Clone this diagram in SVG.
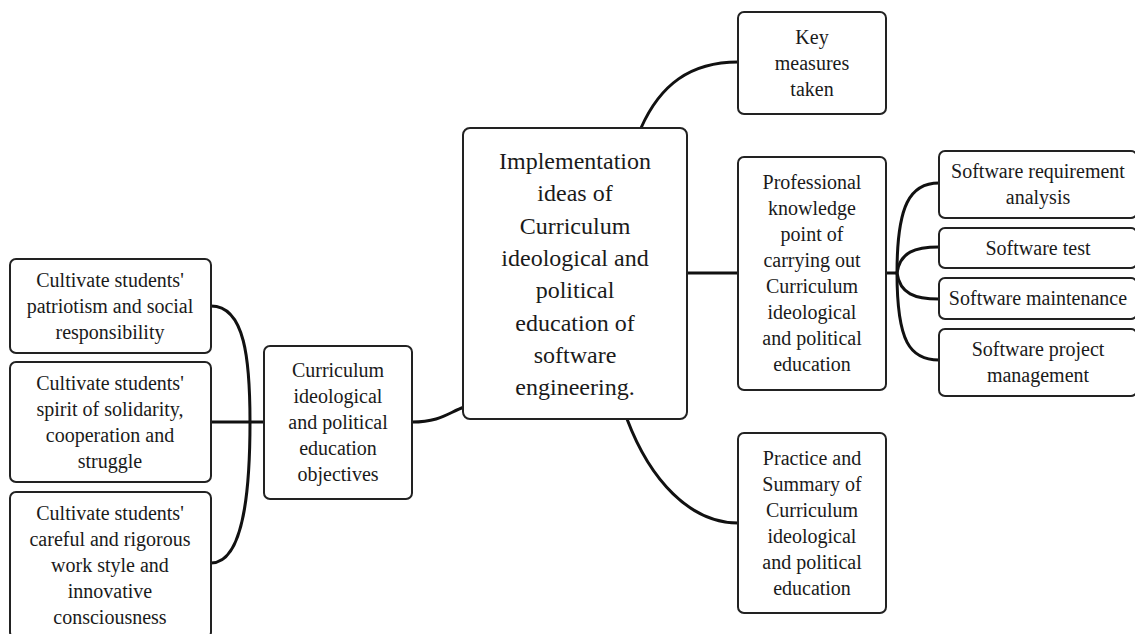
<svg xmlns="http://www.w3.org/2000/svg" width="1135" height="634" viewBox="0 0 1135 634">
<style>
.box{fill:#fff;stroke:#222;stroke-width:2}
.c{fill:none;stroke:#111;stroke-width:3}
text{font-family:"Liberation Serif","Times New Roman",serif;fill:#1a1a1a;text-anchor:middle}
.s{font-size:20px}
.l{font-size:24px}
</style>
<rect width="1135" height="634" fill="#fff"/>
<g id="connectors">
<path class="c" d="M211,306 C245,306 250,360 250,422"/>
<path class="c" d="M211,563 C245,563 250,484 250,422"/>
<path class="c" d="M211,422 H264"/>
<path class="c" d="M412,422 C440,422 448,413 464,407"/>
<path class="c" d="M641,128 C660,85 690,62 738,62"/>
<path class="c" d="M687,273 H738"/>
<path class="c" d="M627,419 C650,480 690,523 738,523"/>
<path class="c" d="M886,273 H897"/>
<path class="c" d="M897,273 C897,205 910,183 939,183"/>
<path class="c" d="M897,273 C900,252 915,247 939,247"/>
<path class="c" d="M897,273 C900,294 915,299 939,299"/>
<path class="c" d="M897,273 C897,342 910,360 939,360"/>
</g>
<g id="n_patriotism">
<rect class="box" x="10" y="259" width="201" height="94" rx="6"/>
<text class="s" x="110" y="287">Cultivate students'</text>
<text class="s" x="110" y="313">patriotism and social</text>
<text class="s" x="110" y="339">responsibility</text>
</g>
<g id="n_solidarity">
<rect class="box" x="10" y="362" width="201" height="120" rx="6"/>
<text class="s" x="110" y="390">Cultivate students'</text>
<text class="s" x="110" y="416">spirit of solidarity,</text>
<text class="s" x="110" y="442">cooperation and</text>
<text class="s" x="110" y="468">struggle</text>
</g>
<g id="n_careful">
<rect class="box" x="10" y="492" width="201" height="146" rx="6"/>
<text class="s" x="110" y="520">Cultivate students'</text>
<text class="s" x="110" y="546">careful and rigorous</text>
<text class="s" x="110" y="572">work style and</text>
<text class="s" x="110" y="598">innovative</text>
<text class="s" x="110" y="624">consciousness</text>
</g>
<g id="n_objectives">
<rect class="box" x="264" y="346" width="148" height="153" rx="6"/>
<text class="s" x="338" y="377">Curriculum</text>
<text class="s" x="338" y="403">ideological</text>
<text class="s" x="338" y="429">and political</text>
<text class="s" x="338" y="455">education</text>
<text class="s" x="338" y="481">objectives</text>
</g>
<g id="n_center">
<rect class="box" x="463" y="128" width="224" height="291" rx="7"/>
<text class="l" x="575" y="169">Implementation</text>
<text class="l" x="575" y="201">ideas of</text>
<text class="l" x="575" y="234">Curriculum</text>
<text class="l" x="575" y="266">ideological and</text>
<text class="l" x="575" y="298">political</text>
<text class="l" x="575" y="331">education of</text>
<text class="l" x="575" y="363">software</text>
<text class="l" x="575" y="395">engineering.</text>
</g>
<g id="n_key">
<rect class="box" x="738" y="12" width="148" height="102" rx="6"/>
<text class="s" x="812" y="44">Key</text>
<text class="s" x="812" y="70">measures</text>
<text class="s" x="812" y="96">taken</text>
</g>
<g id="n_professional">
<rect class="box" x="738" y="157" width="148" height="233" rx="6"/>
<text class="s" x="812" y="189">Professional</text>
<text class="s" x="812" y="215">knowledge</text>
<text class="s" x="812" y="241">point of</text>
<text class="s" x="812" y="267">carrying out</text>
<text class="s" x="812" y="293">Curriculum</text>
<text class="s" x="812" y="319">ideological</text>
<text class="s" x="812" y="345">and political</text>
<text class="s" x="812" y="371">education</text>
</g>
<g id="n_practice">
<rect class="box" x="738" y="433" width="148" height="180" rx="6"/>
<text class="s" x="812" y="465">Practice and</text>
<text class="s" x="812" y="491">Summary of</text>
<text class="s" x="812" y="517">Curriculum</text>
<text class="s" x="812" y="543">ideological</text>
<text class="s" x="812" y="569">and political</text>
<text class="s" x="812" y="595">education</text>
</g>
<g id="n_requirement">
<rect class="box" x="939" y="151" width="198" height="67" rx="6"/>
<text class="s" x="1038" y="178">Software requirement</text>
<text class="s" x="1038" y="204">analysis</text>
</g>
<g id="n_test">
<rect class="box" x="939" y="228" width="198" height="40" rx="6"/>
<text class="s" x="1038" y="255">Software test</text>
</g>
<g id="n_maintenance">
<rect class="box" x="939" y="278" width="198" height="41" rx="6"/>
<text class="s" x="1038" y="305">Software maintenance</text>
</g>
<g id="n_project">
<rect class="box" x="939" y="329" width="198" height="67" rx="6"/>
<text class="s" x="1038" y="356">Software project</text>
<text class="s" x="1038" y="382">management</text>
</g>
</svg>
